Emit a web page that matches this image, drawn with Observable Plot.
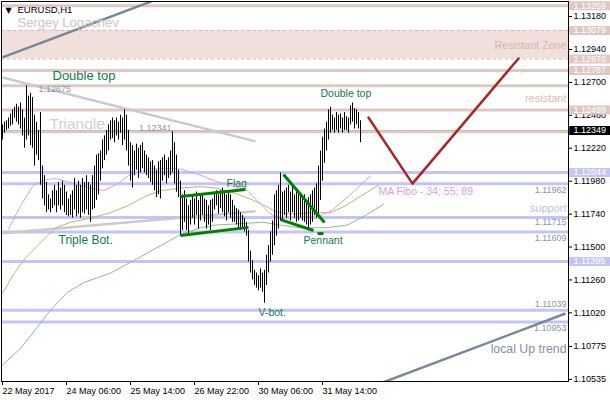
<!DOCTYPE html>
<html><head><meta charset="utf-8">
<script src="https://cdn.jsdelivr.net/npm/d3@7"></script>
<script src="https://cdn.jsdelivr.net/npm/@observablehq/plot@0.6"></script>
<style>
html,body{margin:0;padding:0;background:#fff;}
#chart{width:610px;height:400px;overflow:hidden;}
</style></head><body><div id="chart"></div>
<script>
// ---- axes ----
const timeTickBars = [0, 32, 64, 96, 128, 160];
const timeLabels = ["22 May 2017", "24 May 06:00", "25 May 14:00", "26 May 22:00", "30 May 06:00", "31 May 14:00"];
const priceTicks = [1.13180, 1.12940, 1.12700, 1.12460, 1.12220, 1.11980, 1.11740, 1.11500, 1.11260, 1.11020, 1.10775, 1.10535];

// ---- EURUSD H1 bars (high / low), one per hour ----
const barHigh = [
 1.1239,1.1241,1.1242,1.1244,1.1247,1.1250,1.1252,1.1254,1.1252,1.1255,
 1.1250,1.1244,1.12675,1.1260,1.1262,1.1259,1.1246,1.1241,1.1235,1.1248,
 1.1209,1.1202,1.1197,1.1188,1.1185,1.1191,1.1195,1.1191,1.1197,1.1193,
 1.1198,1.1195,1.1190,1.1185,1.1188,1.1191,1.1200,1.1195,1.1198,1.1195,
 1.1200,1.1197,1.1202,1.1197,1.1195,1.1202,1.1209,1.1217,1.1218,1.1220,
 1.1228,1.1231,1.1235,1.1239,1.1242,1.1244,1.1242,1.1244,1.1241,1.1246,
 1.1244,1.1250,1.1246,1.1235,1.1226,1.1224,1.1220,1.1225,1.1222,1.1224,
 1.1226,1.1220,1.1217,1.1215,1.1212,1.1213,1.1209,1.1206,1.1212,1.1213,
 1.1215,1.1217,1.1213,1.1215,1.1220,1.12341,1.1226,1.1217,1.1206,1.1198,
 1.1188,1.1191,1.1185,1.1180,1.1184,1.1188,1.1185,1.1190,1.1184,1.1188,
 1.1189,1.1185,1.1184,1.1180,1.1184,1.1185,1.1190,1.1191,1.1188,1.1191,
 1.1193,1.1190,1.1188,1.1191,1.1188,1.1184,1.1180,1.1178,1.1177,1.1175,
 1.1173,1.1171,1.1168,1.1162,1.1147,1.1140,1.1133,1.1131,1.1129,1.1134,
 1.1131,1.1133,1.1144,1.1151,1.1161,1.1169,1.1188,1.1191,1.1195,1.1204,
 1.1190,1.1191,1.1193,1.1195,1.1190,1.1196,1.1188,1.1191,1.1188,1.1189,
 1.1185,1.1188,1.1184,1.1186,1.1188,1.1191,1.1193,1.1196,1.1209,1.1220,
 1.1230,1.1236,1.1241,1.1250,1.1252,1.1246,1.1244,1.1248,1.1246,1.1247,
 1.1244,1.1248,1.1245,1.1244,1.1253,1.1255,1.1251,1.1250,1.1248,1.1242
];
const barLow = [
 1.1228,1.1233,1.1235,1.1236,1.1238,1.1239,1.1244,1.1241,1.1239,1.1236,
 1.1231,1.1222,1.1228,1.1231,1.1224,1.1222,1.1209,1.1217,1.1213,1.1195,
 1.1185,1.1180,1.1175,1.1177,1.1175,1.1178,1.1180,1.1175,1.1180,1.1177,
 1.1180,1.1175,1.1173,1.1172,1.1173,1.1171,1.1177,1.1172,1.1174,1.1171,
 1.1175,1.1174,1.1177,1.1173,1.1168,1.1177,1.1178,1.1184,1.1188,1.1198,
 1.1207,1.1213,1.1217,1.1220,1.1228,1.1229,1.1226,1.1231,1.1228,1.1233,
 1.1224,1.1228,1.1220,1.1209,1.1198,1.1193,1.1202,1.1206,1.1200,1.1204,
 1.1207,1.1204,1.1202,1.1200,1.1197,1.1195,1.1191,1.1186,1.1188,1.1185,
 1.1198,1.1202,1.1196,1.1200,1.1202,1.1204,1.1196,1.1190,1.1186,1.1158,
 1.1162,1.1168,1.1162,1.1158,1.1166,1.1171,1.1166,1.1173,1.1163,1.1169,
 1.1173,1.1168,1.1163,1.1166,1.1162,1.1168,1.1177,1.1180,1.1174,1.1178,
 1.1175,1.1172,1.1169,1.1175,1.1171,1.1168,1.1168,1.1166,1.1163,1.1162,
 1.1163,1.1161,1.1158,1.1139,1.1131,1.1126,1.1122,1.1120,1.1118,1.1120,
 1.1117,1.1109,1.1122,1.1131,1.1139,1.1144,1.1151,1.1158,1.1163,1.1169,
 1.1169,1.1173,1.1171,1.1175,1.1169,1.1175,1.1171,1.1168,1.1169,1.1171,
 1.1169,1.1168,1.1166,1.1163,1.1166,1.1168,1.1173,1.1171,1.1174,1.1184,
 1.1198,1.1211,1.1220,1.1228,1.1233,1.1235,1.1233,1.1235,1.1233,1.1236,
 1.1233,1.1235,1.1235,1.1233,1.1239,1.1241,1.1236,1.1239,1.1236,1.1226
];

// ---- moving averages (MA Fibo 34; 55; 89), sampled at bar index ----
const ma34Bar = [3,9,15.5,21.5,26.5,34,44,50.5,57.5,64,74,81.5,89,95.5,101.5,106.5,114,122.5,126.5,130,134,138,144,151.5,159,164,171.5,179,184];
const ma34Val = [1.1163,1.1180,1.1195,1.1199,1.1200,1.1197,1.1193,1.1191,1.1196,1.1203,1.1207,1.1207,1.1207,1.1204,1.1201,1.1198,1.1195,1.1191,1.1185,1.1180,1.1174,1.1171,1.1171,1.1172,1.1173,1.1176,1.1185,1.1195,1.1202];
const ma55Bar = [0,5,11.5,19,26.5,34,44,54,62.5,71.5,79,89,99,106.5,116.5,124,130,136.5,144,154,164,171.5,179,188];
const ma55Val = [1.1116,1.1129,1.1142,1.1153,1.1164,1.1168,1.1171,1.1175,1.1180,1.1187,1.1191,1.1193,1.1194,1.1193,1.1189,1.1185,1.1181,1.1176,1.1174,1.1175,1.1175,1.1180,1.1187,1.1195];
const ma89Bar = [0,9,15.5,24,32.5,40.5,54,65.5,74,81.5,89,99,106.5,119,130.5,139,149,155.5,161.5,172.5,181.5,190.5];
const ma89Val = [1.1064,1.1076,1.1088,1.1104,1.1117,1.1124,1.1131,1.1140,1.1147,1.1153,1.1159,1.1164,1.1166,1.1167,1.1168,1.1166,1.1164,1.1164,1.1164,1.1166,1.1173,1.1181];

// ---- horizontal levels ----
const roseLevels = [1.13259, 1.12787, 1.12675, 1.12499, 1.12341];
const blueLevels = [1.12044, 1.11962, 1.11715, 1.11609, 1.11395, 1.11039, 1.10953];
const bidPrice = 1.12349;
const zoneLow = 1.12870, zoneHigh = 1.13079;
const axisTags = [
  {price: 1.13259, kind: "rose"}, {price: 1.13079, kind: "rose"}, {price: 1.12870, kind: "rose"},
  {price: 1.12787, kind: "rose"}, {price: 1.12499, kind: "rose"}, {price: 1.12349, kind: "bid"},
  {price: 1.12044, kind: "blue"}, {price: 1.11395, kind: "blue"}
];

// ---- drawn objects (bar index, price) ----
const channelLines = [
  {a: 0, pa: 1.12882, b: 80, pb: 1.13321},
  {a: 189, pa: 1.10506, b: 281.5, pb: 1.11015}
];
const triangleLines = [
  {a: 0, pa: 1.12736, b: 126.5, pb: 1.12270},
  {a: 0, pa: 1.11600, b: 126.5, pb: 1.11760}
];
const patternLines = [
  {a: 89, pa: 1.11868, b: 121.5, pb: 1.11919},
  {a: 89, pa: 1.11584, b: 123, pb: 1.11643},
  {a: 140.5, pa: 1.12029, b: 161, pb: 1.11679},
  {a: 139, pa: 1.11700, b: 155.5, pb: 1.11620},
  {a: 157.5, pa: 1.11598, b: 160.5, pb: 1.11598}
];
const forecastBar = [183, 205, 258];
const forecastVal = [1.12444, 1.11962, 1.12874];

// ---- text annotations ----
const patternLabels = [
  {t: "Double top", i: 25, p: 1.12750, s: "l"},
  {t: "Triple Bot.", i: 28, p: 1.11547, s: "m"},
  {t: "Flag", i: 112, p: 1.11963, s: "s"},
  {t: "Pennant", i: 150.5, p: 1.11547, s: "s"},
  {t: "V-bot.", i: 128, p: 1.11023, s: "s"},
  {t: "Double top", i: 159, p: 1.12619, s: "s"}
];
const levelNotes = [
  {t: "1.11962", p: 1.11912}, {t: "1.11715", p: 1.11679}, {t: "1.11609", p: 1.11562},
  {t: "1.11039", p: 1.11081}, {t: "1.10953", p: 1.10906}
];

const bars = barHigh.map((h, i) => ({i, high: h, low: barLow[i]}));
const ma = (bx, vals) => bx.map((b, k) => ({i: b, v: vals[k]}));
const FONT = "'Liberation Sans', Arial, sans-serif";
const rose = "#e0c8c2", lav = "#c4c4f7";

const chart = Plot.plot({
  width: 610, height: 400,
  marginLeft: 1, marginRight: 42, marginTop: 1, marginBottom: 19,
  style: {fontFamily: FONT, fontSize: "9px", background: "#fff", color: "#000"},
  x: {domain: [-0.5, 283], label: null},
  y: {domain: [1.105195, 1.132897], label: null},
  marks: [
    Plot.rect([0], {x1: -0.5, x2: 283, y1: zoneLow, y2: zoneHigh, fill: "#f0dfdb"}),
    Plot.ruleY([zoneLow, zoneHigh], {stroke: "#d8b8b0", strokeDasharray: "3,3"}),
    Plot.ruleY(roseLevels, {stroke: rose, strokeWidth: 3}),
    Plot.ruleY(blueLevels, {stroke: lav, strokeWidth: 3}),
    Plot.ruleY([bidPrice], {stroke: "#c0c0c0", strokeWidth: 1}),
    Plot.link(triangleLines, {x1: "a", y1: "pa", x2: "b", y2: "pb", stroke: "#cacaca", strokeWidth: 2.5}),
    Plot.link(channelLines, {x1: "a", y1: "pa", x2: "b", y2: "pb", stroke: "#778899", strokeWidth: 2.5, clip: true}),
    Plot.line(ma(ma89Bar, ma89Val), {x: "i", y: "v", stroke: "#8fbc8f", strokeWidth: 1}),
    Plot.line(ma(ma55Bar, ma55Val), {x: "i", y: "v", stroke: "#bdb76b", strokeWidth: 1}),
    Plot.line(ma(ma34Bar, ma34Val), {x: "i", y: "v", stroke: "#dda0dd", strokeWidth: 1}),
    Plot.ruleX(bars, {x: "i", y1: "low", y2: "high", stroke: "#000", strokeWidth: 1}),
    Plot.link(patternLines, {x1: "a", y1: "pa", x2: "b", y2: "pb", stroke: "#008000", strokeWidth: 3}),
    Plot.line(ma(forecastBar, forecastVal), {x: "i", y: "v", stroke: "#a62828", strokeWidth: 2.5}),
    // text annotations
    Plot.text(["▼"], {frameAnchor: "top-left", dx: 7, dy: 9, fontSize: 8, fill: "#000", textAnchor: "middle", lineAnchor: "middle", fontFamily: "DejaVu Sans"}),
    Plot.text(["EURUSD,H1"], {frameAnchor: "top-left", dx: 16, dy: 8.5, fontSize: 9.5, fill: "#000", textAnchor: "start", lineAnchor: "middle", fontFamily: FONT}),
    Plot.text(["Sergey Logachev"], {frameAnchor: "top-left", dx: 16, dy: 21.5, fontSize: 13, fill: "#c8c8c8", textAnchor: "start", lineAnchor: "middle", fontFamily: FONT}),
    Plot.text([{t: "Triangle", i: 23.5, p: 1.12400}], {x: "i", y: "p", text: "t", fontSize: 15.5, fill: "#d0d0d0", textAnchor: "start", fontFamily: FONT}),
    Plot.text([{t: "1.12675", i: 18, p: 1.12648}], {x: "i", y: "p", text: "t", fontSize: 9, fill: "#8a95a2", textAnchor: "start", fontFamily: FONT}),
    Plot.text([{t: "1.12341", i: 84.5, p: 1.12364}], {x: "i", y: "p", text: "t", fontSize: 9, fill: "#8a95a2", textAnchor: "end", fontFamily: FONT}),
    Plot.text(patternLabels.filter(d => d.s === "l"), {x: "i", y: "p", text: "t", fontSize: 13, fill: "#127a4a", textAnchor: "start", fontFamily: FONT}),
    Plot.text(patternLabels.filter(d => d.s === "m"), {x: "i", y: "p", text: "t", fontSize: 12, fill: "#127a4a", textAnchor: "start", fontFamily: FONT}),
    Plot.text(patternLabels.filter(d => d.s === "s"), {x: "i", y: "p", text: "t", fontSize: 10.5, fill: "#127a4a", textAnchor: "start", fontFamily: FONT}),
    Plot.text([{t: "MA Fibo - 34; 55; 89", i: 188, p: 1.11905}], {x: "i", y: "p", text: "t", fontSize: 10.5, fill: "#dda0dd", textAnchor: "start", fontFamily: FONT}),
    Plot.text([{t: "Resistant Zone", p: 1.12969}], {y: "p", text: "t", frameAnchor: "right", dx: -2, fontSize: 10.7, fill: "#d5b5ab", textAnchor: "end", fontFamily: FONT}),
    Plot.text([{t: "resistant", p: 1.12583}], {y: "p", text: "t", frameAnchor: "right", dx: -2, fontSize: 11, fill: "#d9bdb5", textAnchor: "end", fontFamily: FONT}),
    Plot.text([{t: "support", p: 1.11781}], {y: "p", text: "t", frameAnchor: "right", dx: -2, fontSize: 11, fill: "#c0c0f0", textAnchor: "end", fontFamily: FONT}),
    Plot.text([{t: "local Up trend", p: 1.10753}], {y: "p", text: "t", frameAnchor: "right", dx: -2, fontSize: 12.3, fill: "#8591a0", textAnchor: "end", fontFamily: FONT}),
    Plot.text(levelNotes, {y: "p", text: "t", frameAnchor: "right", dx: -2, fontSize: 9, fill: "#8a95a2", textAnchor: "end", fontFamily: FONT}),
    Plot.frame({stroke: "#000"}),
    Plot.axisY({anchor: "right", ticks: priceTicks, tickFormat: d => d.toFixed(5), tickSize: 3, tickPadding: 2, label: null, fontSize: 9, fill: "#000", stroke: "#000"}),
    Plot.axisX({anchor: "bottom", ticks: timeTickBars, tickFormat: d => timeLabels[timeTickBars.indexOf(d)], tickSize: 4, tickPadding: 2, label: null, textAnchor: "start", fontSize: 9, fill: "#000", stroke: "#000"}),
    Plot.ruleY(axisTags, {y: "price", x1: 283.6, x2: 305, strokeWidth: 9,
      stroke: d => d.kind === "rose" ? rose : d.kind === "bid" ? "#000" : lav}),
    Plot.text(axisTags, {y: "price", text: d => d.price.toFixed(5), frameAnchor: "right", dx: 5, textAnchor: "start", fill: "#fff", fontSize: 9, fontFamily: FONT})
  ]
});
document.getElementById("chart").appendChild(chart);
</script>
</body></html>
